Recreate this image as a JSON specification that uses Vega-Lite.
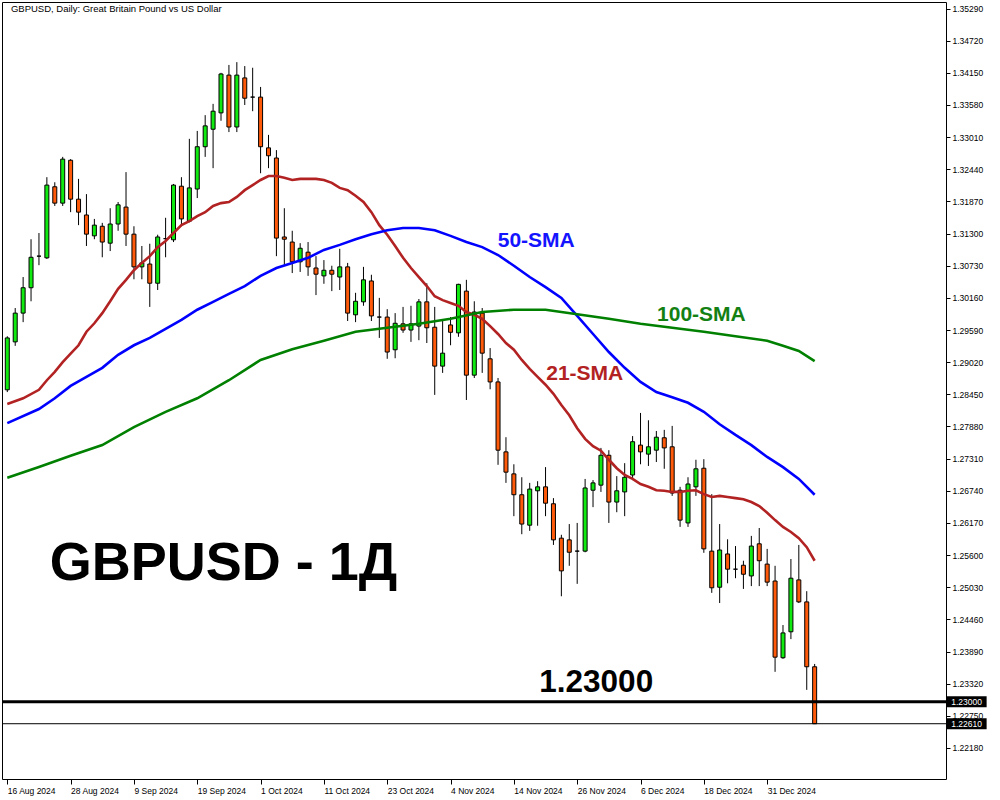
{
  "$schema": "https://vega.github.io/schema/vega-lite/v6.json",
  "width": 944,
  "height": 777,
  "autosize": "none",
  "padding": {"left": 2, "top": 2, "right": 54, "bottom": 21},
  "background": "white",
  "config": {"view": {"stroke": "black", "strokeWidth": 1}},
  "datasets": {
    "candles": [
      {"i":0,"o":1.2853,"h":1.2948,"l":1.2849,"c":1.2945},
      {"i":1,"o":1.2938,"h":1.2998,"l":1.2931,"c":1.2989},
      {"i":2,"o":1.2989,"h":1.3053,"l":1.2973,"c":1.3034},
      {"i":3,"o":1.3034,"h":1.3120,"l":1.3010,"c":1.3088},
      {"i":4,"o":1.3090,"h":1.3131,"l":1.3074,"c":1.3090},
      {"i":5,"o":1.3087,"h":1.3230,"l":1.3085,"c":1.3216},
      {"i":6,"o":1.3213,"h":1.3221,"l":1.3179,"c":1.3184},
      {"i":7,"o":1.3184,"h":1.3266,"l":1.3179,"c":1.3262},
      {"i":8,"o":1.3260,"h":1.3262,"l":1.3168,"c":1.3191},
      {"i":9,"o":1.3191,"h":1.3227,"l":1.3145,"c":1.3168},
      {"i":10,"o":1.3163,"h":1.3200,"l":1.3108,"c":1.3129},
      {"i":11,"o":1.3126,"h":1.3156,"l":1.3120,"c":1.3145},
      {"i":12,"o":1.3143,"h":1.3149,"l":1.3088,"c":1.3115},
      {"i":13,"o":1.3113,"h":1.3175,"l":1.3099,"c":1.3147},
      {"i":14,"o":1.3147,"h":1.3186,"l":1.3135,"c":1.3181},
      {"i":15,"o":1.3177,"h":1.3239,"l":1.3108,"c":1.3129},
      {"i":16,"o":1.3129,"h":1.3143,"l":1.3049,"c":1.3071},
      {"i":17,"o":1.3071,"h":1.3108,"l":1.3049,"c":1.3078},
      {"i":18,"o":1.3076,"h":1.3112,"l":1.3000,"c":1.3042},
      {"i":19,"o":1.3042,"h":1.3128,"l":1.3030,"c":1.3124},
      {"i":20,"o":1.3121,"h":1.3158,"l":1.3088,"c":1.3121},
      {"i":21,"o":1.3119,"h":1.3218,"l":1.3115,"c":1.3216},
      {"i":22,"o":1.3214,"h":1.3230,"l":1.3143,"c":1.3156},
      {"i":23,"o":1.3152,"h":1.3298,"l":1.3150,"c":1.3211},
      {"i":24,"o":1.3209,"h":1.3312,"l":1.3193,"c":1.3284},
      {"i":25,"o":1.3284,"h":1.3340,"l":1.3266,"c":1.3321},
      {"i":26,"o":1.3315,"h":1.3360,"l":1.3246,"c":1.3347},
      {"i":27,"o":1.3344,"h":1.3415,"l":1.3330,"c":1.3413},
      {"i":28,"o":1.3411,"h":1.3429,"l":1.3310,"c":1.3319},
      {"i":29,"o":1.3319,"h":1.3434,"l":1.3310,"c":1.3411},
      {"i":30,"o":1.3406,"h":1.3427,"l":1.3358,"c":1.3370},
      {"i":31,"o":1.3372,"h":1.3424,"l":1.3347,"c":1.3372},
      {"i":32,"o":1.3372,"h":1.3390,"l":1.3237,"c":1.3284},
      {"i":33,"o":1.3282,"h":1.3305,"l":1.3246,"c":1.3268},
      {"i":34,"o":1.3264,"h":1.3278,"l":1.3090,"c":1.3122},
      {"i":35,"o":1.3124,"h":1.3175,"l":1.3074,"c":1.3120},
      {"i":36,"o":1.3115,"h":1.3135,"l":1.3060,"c":1.3080},
      {"i":37,"o":1.3080,"h":1.3113,"l":1.3062,"c":1.3104},
      {"i":38,"o":1.3097,"h":1.3115,"l":1.3055,"c":1.3071},
      {"i":39,"o":1.3069,"h":1.3090,"l":1.3021,"c":1.3058},
      {"i":40,"o":1.3055,"h":1.3083,"l":1.3041,"c":1.3065},
      {"i":41,"o":1.3065,"h":1.3073,"l":1.3028,"c":1.3058},
      {"i":42,"o":1.3053,"h":1.3103,"l":1.3030,"c":1.3071},
      {"i":43,"o":1.3071,"h":1.3078,"l":1.2975,"c":1.2989},
      {"i":44,"o":1.2986,"h":1.3025,"l":1.2973,"c":1.3010},
      {"i":45,"o":1.3009,"h":1.3071,"l":1.3002,"c":1.3048},
      {"i":46,"o":1.3046,"h":1.3057,"l":1.2975,"c":1.2984},
      {"i":47,"o":1.2982,"h":1.3016,"l":1.2945,"c":1.2982},
      {"i":48,"o":1.2982,"h":1.2996,"l":1.2908,"c":1.2920},
      {"i":49,"o":1.2924,"h":1.2989,"l":1.2909,"c":1.2971},
      {"i":50,"o":1.2970,"h":1.3000,"l":1.2954,"c":1.2959},
      {"i":51,"o":1.2959,"h":1.3002,"l":1.2938,"c":1.2970},
      {"i":52,"o":1.2966,"h":1.3014,"l":1.2941,"c":1.3009},
      {"i":53,"o":1.3009,"h":1.3042,"l":1.2936,"c":1.2963},
      {"i":54,"o":1.2964,"h":1.3000,"l":1.2844,"c":1.2895},
      {"i":55,"o":1.2895,"h":1.2975,"l":1.2883,"c":1.2918},
      {"i":56,"o":1.2968,"h":1.2982,"l":1.2932,"c":1.2955},
      {"i":57,"o":1.2954,"h":1.3041,"l":1.2947,"c":1.3040},
      {"i":58,"o":1.3028,"h":1.3048,"l":1.2835,"c":1.2879},
      {"i":59,"o":1.2879,"h":1.3010,"l":1.2874,"c":1.2991},
      {"i":60,"o":1.2989,"h":1.2998,"l":1.2883,"c":1.2918},
      {"i":61,"o":1.2908,"h":1.2927,"l":1.2854,"c":1.2867},
      {"i":62,"o":1.2867,"h":1.2874,"l":1.2720,"c":1.2746},
      {"i":63,"o":1.2743,"h":1.2769,"l":1.2688,"c":1.2707},
      {"i":64,"o":1.2704,"h":1.2721,"l":1.2629,"c":1.2667},
      {"i":65,"o":1.2667,"h":1.2698,"l":1.2597,"c":1.2615},
      {"i":66,"o":1.2613,"h":1.2688,"l":1.2603,"c":1.2677},
      {"i":67,"o":1.2674,"h":1.2691,"l":1.2612,"c":1.2681},
      {"i":68,"o":1.2681,"h":1.2716,"l":1.2629,"c":1.2652},
      {"i":69,"o":1.2651,"h":1.2661,"l":1.2578,"c":1.2587},
      {"i":70,"o":1.2590,"h":1.2596,"l":1.2487,"c":1.2532},
      {"i":71,"o":1.2587,"h":1.2615,"l":1.2541,"c":1.2565},
      {"i":72,"o":1.2567,"h":1.2617,"l":1.2509,"c":1.2567},
      {"i":73,"o":1.2567,"h":1.2695,"l":1.2565,"c":1.2679},
      {"i":74,"o":1.2675,"h":1.2693,"l":1.2645,"c":1.2688},
      {"i":75,"o":1.2684,"h":1.2750,"l":1.2672,"c":1.2737},
      {"i":76,"o":1.2737,"h":1.2746,"l":1.2617,"c":1.2654},
      {"i":77,"o":1.2654,"h":1.2700,"l":1.2636,"c":1.2674},
      {"i":78,"o":1.2672,"h":1.2723,"l":1.2629,"c":1.2698},
      {"i":79,"o":1.2702,"h":1.2771,"l":1.2693,"c":1.2761},
      {"i":80,"o":1.2755,"h":1.2812,"l":1.2721,"c":1.2743},
      {"i":81,"o":1.2739,"h":1.2799,"l":1.2718,"c":1.2752},
      {"i":82,"o":1.2746,"h":1.2780,"l":1.2725,"c":1.2769},
      {"i":83,"o":1.2768,"h":1.2782,"l":1.2713,"c":1.2750},
      {"i":84,"o":1.2752,"h":1.2789,"l":1.2665,"c":1.2670},
      {"i":85,"o":1.2675,"h":1.2681,"l":1.2610,"c":1.2622},
      {"i":86,"o":1.2617,"h":1.2698,"l":1.2610,"c":1.2686},
      {"i":87,"o":1.2681,"h":1.2729,"l":1.2665,"c":1.2713},
      {"i":88,"o":1.2714,"h":1.2730,"l":1.2564,"c":1.2571},
      {"i":89,"o":1.2567,"h":1.2668,"l":1.2493,"c":1.2502},
      {"i":90,"o":1.2503,"h":1.2615,"l":1.2475,"c":1.2569},
      {"i":91,"o":1.2562,"h":1.2588,"l":1.2510,"c":1.2535},
      {"i":92,"o":1.2535,"h":1.2576,"l":1.2519,"c":1.2535},
      {"i":93,"o":1.2542,"h":1.2550,"l":1.2500,"c":1.2526},
      {"i":94,"o":1.2523,"h":1.2594,"l":1.2505,"c":1.2576},
      {"i":95,"o":1.2580,"h":1.2608,"l":1.2505,"c":1.2550},
      {"i":96,"o":1.2544,"h":1.2571,"l":1.2505,"c":1.2512},
      {"i":97,"o":1.2514,"h":1.2541,"l":1.2353,"c":1.2379},
      {"i":98,"o":1.2378,"h":1.2436,"l":1.2376,"c":1.2422},
      {"i":99,"o":1.2424,"h":1.2553,"l":1.2411,"c":1.2519},
      {"i":100,"o":1.2516,"h":1.2578,"l":1.2475,"c":1.2477},
      {"i":101,"o":1.2477,"h":1.2496,"l":1.2321,"c":1.2362},
      {"i":102,"o":1.2362,"h":1.2367,"l":1.2261,"c":1.2261}
    ],
    "sma": [
      {"s":"21","i":0,"v":1.2828},{"s":"21","i":2,"v":1.2838},{"s":"21","i":4,"v":1.2853},{"s":"21","i":5,"v":1.2870},
      {"s":"21","i":6,"v":1.2885},{"s":"21","i":7,"v":1.2902},{"s":"21","i":8,"v":1.2917},{"s":"21","i":9,"v":1.2932},
      {"s":"21","i":10,"v":1.2956},{"s":"21","i":11,"v":1.2971},{"s":"21","i":12,"v":1.2989},{"s":"21","i":13,"v":1.3010},
      {"s":"21","i":14,"v":1.3032},{"s":"21","i":15,"v":1.3048},{"s":"21","i":16,"v":1.3065},{"s":"21","i":17,"v":1.3078},
      {"s":"21","i":18,"v":1.3090},{"s":"21","i":19,"v":1.3106},{"s":"21","i":20,"v":1.3117},{"s":"21","i":21,"v":1.3131},
      {"s":"21","i":22,"v":1.3145},{"s":"21","i":23,"v":1.3152},{"s":"21","i":24,"v":1.3161},{"s":"21","i":25,"v":1.3168},
      {"s":"21","i":26,"v":1.3179},{"s":"21","i":27,"v":1.3184},{"s":"21","i":28,"v":1.3186},{"s":"21","i":29,"v":1.3195},
      {"s":"21","i":30,"v":1.3207},{"s":"21","i":31,"v":1.3216},{"s":"21","i":32,"v":1.3225},{"s":"21","i":33,"v":1.3232},
      {"s":"21","i":34,"v":1.3232},{"s":"21","i":35,"v":1.3229},{"s":"21","i":36,"v":1.3225},{"s":"21","i":37,"v":1.3227},
      {"s":"21","i":38,"v":1.3227},{"s":"21","i":39,"v":1.3227},{"s":"21","i":40,"v":1.3225},{"s":"21","i":41,"v":1.3220},
      {"s":"21","i":42,"v":1.3211},{"s":"21","i":43,"v":1.3207},{"s":"21","i":44,"v":1.3197},{"s":"21","i":45,"v":1.3186},
      {"s":"21","i":46,"v":1.3168},{"s":"21","i":47,"v":1.3145},{"s":"21","i":48,"v":1.3128},{"s":"21","i":49,"v":1.3108},
      {"s":"21","i":50,"v":1.3087},{"s":"21","i":51,"v":1.3069},{"s":"21","i":52,"v":1.3053},{"s":"21","i":53,"v":1.3037},
      {"s":"21","i":54,"v":1.3019},{"s":"21","i":55,"v":1.3012},{"s":"21","i":56,"v":1.3007},{"s":"21","i":57,"v":1.3002},
      {"s":"21","i":58,"v":1.2991},{"s":"21","i":59,"v":1.2986},{"s":"21","i":60,"v":1.2979},{"s":"21","i":61,"v":1.2966},
      {"s":"21","i":62,"v":1.2952},{"s":"21","i":63,"v":1.2936},{"s":"21","i":64,"v":1.2924},{"s":"21","i":65,"v":1.2906},
      {"s":"21","i":66,"v":1.2890},{"s":"21","i":67,"v":1.2876},{"s":"21","i":68,"v":1.2862},{"s":"21","i":69,"v":1.2846},
      {"s":"21","i":70,"v":1.2826},{"s":"21","i":71,"v":1.2808},{"s":"21","i":72,"v":1.2785},{"s":"21","i":73,"v":1.2766},
      {"s":"21","i":74,"v":1.2753},{"s":"21","i":75,"v":1.2745},{"s":"21","i":76,"v":1.2729},{"s":"21","i":77,"v":1.2714},
      {"s":"21","i":78,"v":1.2702},{"s":"21","i":79,"v":1.2695},{"s":"21","i":80,"v":1.2686},{"s":"21","i":81,"v":1.2681},
      {"s":"21","i":82,"v":1.2675},{"s":"21","i":83,"v":1.2674},{"s":"21","i":84,"v":1.2672},{"s":"21","i":85,"v":1.2672},
      {"s":"21","i":86,"v":1.2674},{"s":"21","i":87,"v":1.2675},{"s":"21","i":88,"v":1.2668},{"s":"21","i":89,"v":1.2663},
      {"s":"21","i":90,"v":1.2665},{"s":"21","i":91,"v":1.2663},{"s":"21","i":92,"v":1.2661},{"s":"21","i":93,"v":1.2659},
      {"s":"21","i":94,"v":1.2654},{"s":"21","i":95,"v":1.2647},{"s":"21","i":96,"v":1.2635},{"s":"21","i":97,"v":1.2622},
      {"s":"21","i":98,"v":1.2610},{"s":"21","i":99,"v":1.2601},{"s":"21","i":100,"v":1.2590},{"s":"21","i":101,"v":1.2574},
      {"s":"21","i":102,"v":1.2550},
      {"s":"50","i":0,"v":1.2794},{"s":"50","i":4,"v":1.2819},{"s":"50","i":6,"v":1.2838},{"s":"50","i":8,"v":1.2860},
      {"s":"50","i":10,"v":1.2876},{"s":"50","i":12,"v":1.2892},{"s":"50","i":14,"v":1.2915},{"s":"50","i":16,"v":1.2932},
      {"s":"50","i":18,"v":1.2945},{"s":"50","i":20,"v":1.2961},{"s":"50","i":22,"v":1.2977},{"s":"50","i":24,"v":1.2995},
      {"s":"50","i":26,"v":1.3009},{"s":"50","i":28,"v":1.3023},{"s":"50","i":30,"v":1.3037},{"s":"50","i":32,"v":1.3055},
      {"s":"50","i":34,"v":1.3069},{"s":"50","i":36,"v":1.3078},{"s":"50","i":38,"v":1.3087},{"s":"50","i":40,"v":1.3101},
      {"s":"50","i":42,"v":1.3110},{"s":"50","i":44,"v":1.3120},{"s":"50","i":46,"v":1.3129},{"s":"50","i":48,"v":1.3136},
      {"s":"50","i":50,"v":1.3140},{"s":"50","i":52,"v":1.3140},{"s":"50","i":54,"v":1.3136},{"s":"50","i":56,"v":1.3126},
      {"s":"50","i":58,"v":1.3115},{"s":"50","i":60,"v":1.3106},{"s":"50","i":62,"v":1.3092},{"s":"50","i":64,"v":1.3073},
      {"s":"50","i":66,"v":1.3053},{"s":"50","i":68,"v":1.3035},{"s":"50","i":70,"v":1.3016},{"s":"50","i":72,"v":1.2984},
      {"s":"50","i":74,"v":1.2952},{"s":"50","i":76,"v":1.2920},{"s":"50","i":78,"v":1.2892},{"s":"50","i":80,"v":1.2867},
      {"s":"50","i":82,"v":1.2849},{"s":"50","i":84,"v":1.2840},{"s":"50","i":86,"v":1.2830},{"s":"50","i":88,"v":1.2814},
      {"s":"50","i":90,"v":1.2792},{"s":"50","i":92,"v":1.2773},{"s":"50","i":94,"v":1.2755},{"s":"50","i":96,"v":1.2734},
      {"s":"50","i":98,"v":1.2716},{"s":"50","i":100,"v":1.2695},{"s":"50","i":102,"v":1.2667},
      {"s":"100","i":0,"v":1.2697},{"s":"100","i":4,"v":1.2716},{"s":"100","i":8,"v":1.2736},{"s":"100","i":12,"v":1.2755},
      {"s":"100","i":16,"v":1.2787},{"s":"100","i":20,"v":1.2814},{"s":"100","i":24,"v":1.2838},{"s":"100","i":28,"v":1.2870},
      {"s":"100","i":32,"v":1.2906},{"s":"100","i":36,"v":1.2925},{"s":"100","i":40,"v":1.2940},{"s":"100","i":44,"v":1.2956},
      {"s":"100","i":48,"v":1.2963},{"s":"100","i":52,"v":1.2970},{"s":"100","i":56,"v":1.2979},{"s":"100","i":60,"v":1.2991},
      {"s":"100","i":64,"v":1.2995},{"s":"100","i":68,"v":1.2995},{"s":"100","i":72,"v":1.2987},{"s":"100","i":76,"v":1.2979},
      {"s":"100","i":80,"v":1.2970},{"s":"100","i":84,"v":1.2963},{"s":"100","i":88,"v":1.2956},{"s":"100","i":92,"v":1.2948},
      {"s":"100","i":96,"v":1.2940},{"s":"100","i":98,"v":1.2931},{"s":"100","i":100,"v":1.2922},{"s":"100","i":102,"v":1.2904}
    ]
  },
  "layer": [
    {
      "data": {"name": "candles"},
      "mark": {"type": "rule", "color": "black", "strokeWidth": 1},
      "encoding": {
        "x": {"field": "i", "type": "quantitative", "title": null,
              "scale": {"domain": [-0.0375, 117.9625], "nice": false, "zero": false},
              "axis": {"values": [0,8,16,24,32,40,48,56,64,72,80,88,96], "tickCount": 40,
                       "labelExpr": "['16 Aug 2024','28 Aug 2024','9 Sep 2024','19 Sep 2024','1 Oct 2024','11 Oct 2024','23 Oct 2024','4 Nov 2024','14 Nov 2024','26 Nov 2024','6 Dec 2024','18 Dec 2024','31 Dec 2024'][round(datum.value/8)]",
                       "grid": false, "domain": false, "tickSize": 5, "tickColor": "black", "tickWidth": 1,
                       "labelAlign": "left", "labelBaseline": "top", "labelPadding": 2, "labelDx": 2,
                       "labelFont": "Liberation Sans", "labelFontSize": 8.5, "labelColor": "black",
                       "labelFlush": false, "labelOverlap": false}},
        "y": {"field": "l", "type": "quantitative", "title": null,
              "scale": {"domain": [1.2163, 1.35406], "nice": false, "zero": false},
              "axis": {"orient": "right", "tickCount": 60,
                       "values": [1.3529,1.3472,1.3415,1.3358,1.3301,1.3244,1.3187,1.313,1.3073,1.3016,1.2959,1.2902,1.2845,1.2788,1.2731,1.2674,1.2617,1.256,1.2503,1.2446,1.2389,1.2332,1.2275,1.2218],
                       "format": ".5f", "grid": false, "domain": false, "tickSize": 4, "tickColor": "black", "tickWidth": 1,
                       "labelPadding": 2, "labelFont": "Liberation Sans", "labelFontSize": 8.5, "labelColor": "black",
                       "labelBaseline": "middle", "labelFlush": false, "labelOverlap": false}},
        "y2": {"field": "h"}
      }
    },
    {
      "data": {"name": "candles"},
      "mark": {"type": "bar", "width": 4, "stroke": "black", "strokeWidth": 1, "orient": "vertical"},
      "encoding": {
        "x": {"field": "i", "type": "quantitative", "title": null,
              "scale": {"domain": [-0.0375, 117.9625], "nice": false, "zero": false}},
        "y": {"field": "o", "type": "quantitative", "title": null,
              "scale": {"domain": [1.2163, 1.35406], "nice": false, "zero": false}},
        "y2": {"field": "c"},
        "fill": {"condition": [{"test": "datum.c > datum.o", "value": "#11ea11"}, {"test": "datum.c == datum.o", "value": "black"}], "value": "#ff5a0a"}
      }
    },
    {
      "data": {"name": "sma"},
      "mark": {"type": "line", "strokeWidth": 2.6},
      "encoding": {
        "x": {"field": "i", "type": "quantitative", "title": null,
              "scale": {"domain": [-0.0375, 117.9625], "nice": false, "zero": false}},
        "y": {"field": "v", "type": "quantitative", "title": null,
              "scale": {"domain": [1.2163, 1.35406], "nice": false, "zero": false}},
        "color": {"field": "s", "type": "nominal", "legend": null,
                  "scale": {"domain": ["21", "50", "100"], "range": ["#b22222", "#0000ff", "#008000"]}}
      }
    },
    {
      "data": {"values": [{"p": 1.23}]},
      "mark": {"type": "rule", "color": "black", "strokeWidth": 3},
      "encoding": {
        "y": {"field": "p", "type": "quantitative", "title": null,
              "scale": {"domain": [1.2163, 1.35406], "nice": false, "zero": false}}
      }
    },
    {
      "data": {"values": [{"p": 1.2261}]},
      "mark": {"type": "rule", "color": "black", "strokeWidth": 1},
      "encoding": {
        "y": {"field": "p", "type": "quantitative", "title": null,
              "scale": {"domain": [1.2163, 1.35406], "nice": false, "zero": false}}
      }
    },
    {
      "data": {"values": [{"p": 1.23, "t": "1.23000"}, {"p": 1.2261, "t": "1.22610"}]},
      "mark": {"type": "point", "filled": true, "color": "black", "opacity": 1, "size": 1600,
               "shape": "M-1,-0.27L1,-0.27L1,0.27L-1,0.27Z"},
      "encoding": {
        "x": {"datum": 121.2, "type": "quantitative", "title": null,
              "scale": {"domain": [-0.0375, 117.9625], "nice": false, "zero": false}},
        "y": {"field": "p", "type": "quantitative", "title": null,
              "scale": {"domain": [1.2163, 1.35406], "nice": false, "zero": false}}
      }
    },
    {
      "data": {"values": [{"p": 1.23, "t": "1.23000"}, {"p": 1.2261, "t": "1.22610"}]},
      "mark": {"type": "text", "color": "white", "font": "Liberation Sans", "fontSize": 8.5, "align": "center", "baseline": "middle"},
      "encoding": {
        "x": {"datum": 121.2, "type": "quantitative", "title": null,
              "scale": {"domain": [-0.0375, 117.9625], "nice": false, "zero": false}},
        "y": {"field": "p", "type": "quantitative", "title": null,
              "scale": {"domain": [1.2163, 1.35406], "nice": false, "zero": false}},
        "text": {"field": "t"}
      }
    },
    {
      "data": {"values": [{"t": "GBPUSD, Daily:  Great Britain Pound vs US Dollar"}]},
      "mark": {"type": "text", "color": "black", "font": "Liberation Sans", "fontSize": 9.5, "align": "left", "baseline": "middle"},
      "encoding": {
        "x": {"datum": 0.46, "type": "quantitative", "title": null, "scale": {"domain": [-0.0375, 117.9625], "nice": false, "zero": false}},
        "y": {"datum": 1.35281, "type": "quantitative", "title": null, "scale": {"domain": [1.2163, 1.35406], "nice": false, "zero": false}},
        "text": {"field": "t"}
      }
    },
    {
      "data": {"values": [{"t": "50-SMA"}]},
      "mark": {"type": "text", "color": "#1414ff", "font": "Liberation Sans", "fontWeight": "bold", "fontSize": 21, "align": "left", "baseline": "middle"},
      "encoding": {
        "x": {"datum": 61.96, "type": "quantitative", "title": null, "scale": {"domain": [-0.0375, 117.9625], "nice": false, "zero": false}},
        "y": {"datum": 1.31168, "type": "quantitative", "title": null, "scale": {"domain": [1.2163, 1.35406], "nice": false, "zero": false}},
        "text": {"field": "t"}
      }
    },
    {
      "data": {"values": [{"t": "100-SMA"}]},
      "mark": {"type": "text", "color": "#138013", "font": "Liberation Sans", "fontWeight": "bold", "fontSize": 21, "align": "left", "baseline": "middle"},
      "encoding": {
        "x": {"datum": 82.09, "type": "quantitative", "title": null, "scale": {"domain": [-0.0375, 117.9625], "nice": false, "zero": false}},
        "y": {"datum": 1.29856, "type": "quantitative", "title": null, "scale": {"domain": [1.2163, 1.35406], "nice": false, "zero": false}},
        "text": {"field": "t"}
      }
    },
    {
      "data": {"values": [{"t": "21-SMA"}]},
      "mark": {"type": "text", "color": "#b22222", "font": "Liberation Sans", "fontWeight": "bold", "fontSize": 21, "align": "left", "baseline": "middle"},
      "encoding": {
        "x": {"datum": 68.09, "type": "quantitative", "title": null, "scale": {"domain": [-0.0375, 117.9625], "nice": false, "zero": false}},
        "y": {"datum": 1.2881, "type": "quantitative", "title": null, "scale": {"domain": [1.2163, 1.35406], "nice": false, "zero": false}},
        "text": {"field": "t"}
      }
    },
    {
      "data": {"values": [{"t": "GBPUSD - 1Д"}]},
      "mark": {"type": "text", "color": "black", "font": "Liberation Sans", "fontWeight": "bold", "fontSize": 54, "align": "left", "baseline": "middle"},
      "encoding": {
        "x": {"datum": 5.35, "type": "quantitative", "title": null, "scale": {"domain": [-0.0375, 117.9625], "nice": false, "zero": false}},
        "y": {"datum": 1.2545, "type": "quantitative", "title": null, "scale": {"domain": [1.2163, 1.35406], "nice": false, "zero": false}},
        "text": {"field": "t"}
      }
    },
    {
      "data": {"values": [{"t": "1.23000"}]},
      "mark": {"type": "text", "color": "black", "font": "Liberation Sans", "fontWeight": "bold", "fontSize": 31.5, "align": "left", "baseline": "middle"},
      "encoding": {
        "x": {"datum": 67.21, "type": "quantitative", "title": null, "scale": {"domain": [-0.0375, 117.9625], "nice": false, "zero": false}},
        "y": {"datum": 1.23332, "type": "quantitative", "title": null, "scale": {"domain": [1.2163, 1.35406], "nice": false, "zero": false}},
        "text": {"field": "t"}
      }
    }
  ]
}
